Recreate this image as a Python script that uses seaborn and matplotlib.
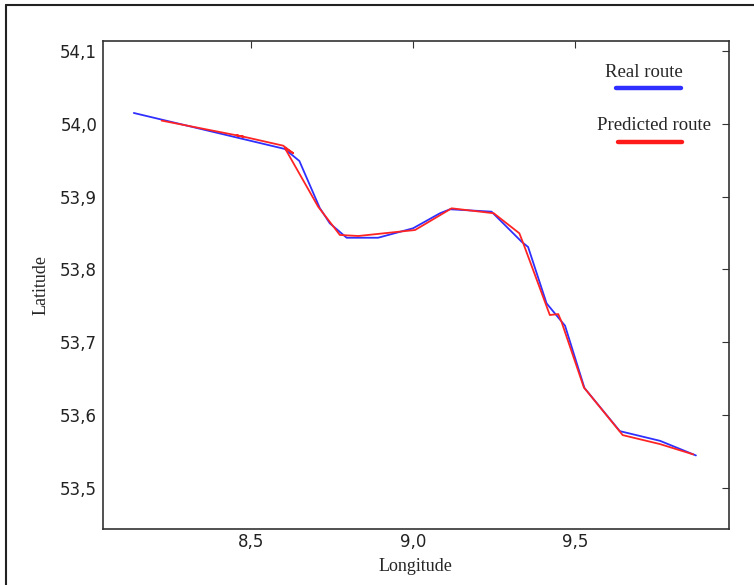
import pandas as pd
import matplotlib.pyplot as plt
import seaborn as sns
from matplotlib.lines import Line2D
from matplotlib.ticker import FuncFormatter

# Route data (longitude, latitude)
real_lon = [8.137, 8.603, 8.648, 8.711, 8.742, 8.794, 8.891, 8.999, 9.082, 9.113,
            9.241, 9.334, 9.354, 9.411, 9.468, 9.528, 9.637, 9.761, 9.872]
real_lat = [54.0148, 53.9654, 53.9489, 53.8843, 53.8633, 53.8435, 53.8435, 53.8565,
            53.8771, 53.8826, 53.8793, 53.8380, 53.8308, 53.7534, 53.7227, 53.6371,
            53.5780, 53.5647, 53.5446]

pred_lon = [8.223, 8.475, 8.455, 8.480, 8.598, 8.629, 8.603, 8.706, 8.773, 8.830,
            9.005, 9.118, 9.248, 9.327, 9.339, 9.421, 9.447, 9.457, 9.526, 9.646,
            9.761, 9.864]
pred_lat = [54.0043, 53.9823, 53.9840, 53.9818, 53.9699, 53.9595, 53.9668, 53.8861,
            53.8473, 53.8459, 53.8541, 53.8839, 53.8771, 53.8496, 53.8359, 53.7374,
            53.7387, 53.7282, 53.6381, 53.5725, 53.5602, 53.5460]

x_ticks = [8.5, 9.0, 9.5]
y_ticks = [53.5, 53.6, 53.7, 53.8, 53.9, 54.0, 54.1]

real_df = pd.DataFrame({'lon': real_lon, 'lat': real_lat})
pred_df = pd.DataFrame({'lon': pred_lon, 'lat': pred_lat})

sns.set_style('white')
plt.rcParams['font.family'] = ['DejaVu Sans']

fig = plt.figure(figsize=(7.54, 5.85), dpi=100)
ax = fig.add_axes([0.1362, 0.0962, 0.8302, 0.8342])

sns.lineplot(data=real_df, x='lon', y='lat', sort=False, estimator=None,
             color='#2f2fff', lw=1.3, ax=ax)
sns.lineplot(data=pred_df, x='lon', y='lat', sort=False, estimator=None,
             color='#ff2424', lw=1.3, ax=ax)

ax.set_xlim(8.041, 9.973)
ax.set_ylim(53.444, 54.114)
ax.set_xticks(x_ticks)
ax.set_yticks(y_ticks)
comma = FuncFormatter(lambda v, p: f'{v:.1f}'.replace('.', ','))
ax.xaxis.set_major_formatter(comma)
ax.yaxis.set_major_formatter(comma)
ax.tick_params(direction='in', length=5, width=0.8, color='#333333',
               top=True, right=True, labelsize=12, labelcolor='#222222')
ax.tick_params(axis='x', pad=3)
ax.tick_params(axis='y', pad=4)
for s in ax.spines.values():
    s.set_color('#333333')
    s.set_linewidth(1.2)

serif = ['Liberation Serif', 'DejaVu Serif']
ax.set_xlabel('Longitude', family=serif, fontsize=13, labelpad=5)
ax.set_ylabel('Latitude', family=serif, fontsize=13, labelpad=8)

# legend: text above a thick line
ax.text(0.864, 0.934, 'Real route', transform=ax.transAxes, family=serif,
        fontsize=13.5, ha='center', va='center')
ax.add_line(Line2D([0.820, 0.924], [0.903, 0.903], transform=ax.transAxes,
                   color='#2f2fff', lw=3.2, solid_capstyle='round'))
ax.text(0.880, 0.826, 'Predicted route', transform=ax.transAxes, family=serif,
        fontsize=13.5, ha='center', va='center')
ax.add_line(Line2D([0.823, 0.925], [0.792, 0.792], transform=ax.transAxes,
                   color='#ff1a1a', lw=3.2, solid_capstyle='round'))

# frame around the figure (left and top edges visible)
fig.add_artist(Line2D([0.0073, 0.0073], [0, 0.9906], transform=fig.transFigure,
                      color='#222222', lw=1.5))
fig.add_artist(Line2D([0.0073, 1.0], [0.9906, 0.9906], transform=fig.transFigure,
                      color='#222222', lw=1.5))

fig.savefig('out.png', dpi=100)
